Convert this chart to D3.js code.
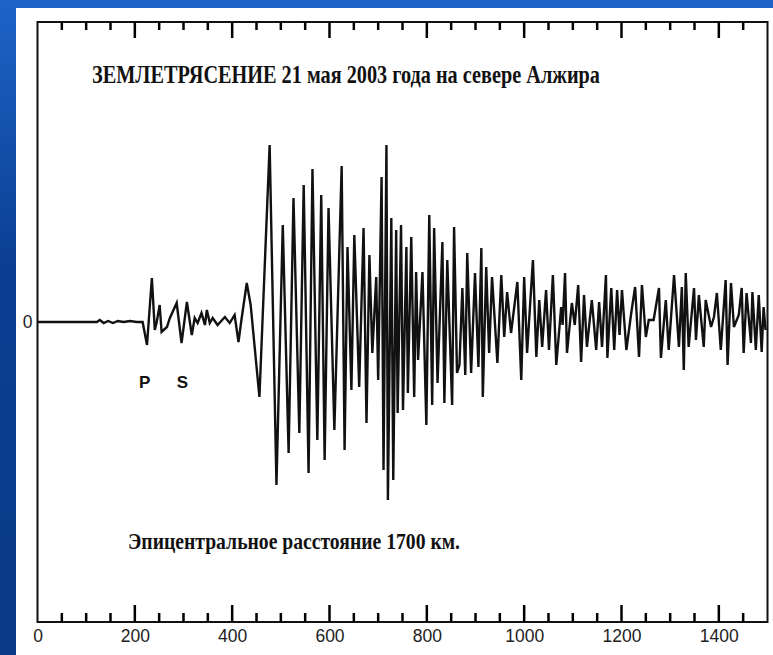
<!DOCTYPE html>
<html>
<head>
<meta charset="utf-8">
<script src="https://cdn.jsdelivr.net/npm/d3@7/dist/d3.min.js"></script>
<style>
    body { margin: 0; padding: 0; overflow: hidden; }
    svg { display: block; }
    .tickLabel text { font-family: "Liberation Sans", Arial, sans-serif; font-size: 17.5px; fill: #222; }
</style>
</head>
<body>
<svg id="seismo" width="773" height="655"></svg>
<script>
// seismogram (time axis units, amplitude in arbitrary units)
var timeValues = [0, 122, 128, 136, 145, 155, 165, 177, 190, 204, 216, 225, 235, 241, 245, 251, 255, 266, 272, 286,
    296, 307, 317, 323, 329, 337, 344, 348, 354, 360, 370, 385, 395, 405, 413, 419, 430, 438, 456, 477,
    491, 504, 516, 526, 538, 547, 557, 565, 575, 583, 590, 598, 610, 625, 631, 637, 645, 651, 661, 670,
    676, 682, 688, 696, 700, 707, 711, 717, 720, 727, 731, 737, 740, 747, 751, 758, 761, 768, 774, 778,
    782, 791, 799, 805, 811, 815, 822, 832, 836, 842, 852, 856, 862, 867, 873, 879, 883, 891, 899, 906,
    912, 915, 922, 928, 934, 945, 953, 959, 965, 973, 986, 994, 1000, 1006, 1018, 1025, 1031, 1037, 1045, 1051,
    1059, 1066, 1076, 1079, 1084, 1088, 1098, 1104, 1111, 1117, 1123, 1129, 1139, 1148, 1154, 1160, 1168, 1171, 1179, 1185,
    1191, 1196, 1201, 1210, 1220, 1228, 1236, 1242, 1250, 1256, 1266, 1277, 1281, 1291, 1297, 1308, 1318, 1324, 1328, 1332,
    1338, 1349, 1353, 1359, 1369, 1373, 1384, 1390, 1396, 1404, 1414, 1418, 1425, 1431, 1441, 1447, 1451, 1457, 1466, 1469,
    1476, 1482, 1488, 1492, 1496];
var amplitudeValues = [0, 0, 2, -1, 1, -1, 1, 0, 1, 0, 0, -23, 44, -8, 0, 17, -10, -5, 4, 19,
    -21, 20, -13, 4, -1, 9, -3, 12, -1, 4, -3, 5, -1, 7, -20, 2, 39, 17, -75, 177,
    -163, 97, -131, 124, -111, 137, -151, 153, -118, 127, -138, 114, -108, 156, -128, 75, -68, 87, -65, 94,
    -101, 67, -31, 45, -58, 145, -148, 177, -178, 104, -158, 92, -91, 97, -88, 75, -71, 85, -75, 50,
    -38, 50, -103, 107, -83, 94, -61, 80, -81, 62, -83, 95, -51, -43, 34, -53, 69, -51, 49, -45,
    74, -75, 55, -31, 45, -41, 47, -15, 30, -11, 40, -58, 45, -31, 62, -35, 22, -25, 32, -28,
    47, -43, 15, -3, 49, -31, 19, -3, 37, -40, 27, -25, 22, -28, 20, -25, 47, -36, 34, -28,
    32, -13, 32, -28, 9, 35, -35, 37, -15, 2, 2, 34, -36, 22, -28, 47, -25, 35, -48, 49,
    -25, 34, -18, 27, -25, 22, -5, 5, 29, -28, 42, -43, 39, -5, 7, 34, -31, 29, -21, 30,
    -28, 27, -30, 15, -8];

var majorTicks = [200, 400, 600, 800, 1000, 1200, 1400];
var minorTicks = [50, 100, 150, 250, 300, 350, 450, 500, 550, 650, 700, 750, 850, 900, 950,
    1050, 1100, 1150, 1250, 1300, 1350, 1450];
var xTickLabels = [0, 200, 400, 600, 800, 1000, 1200, 1400];

var titleText = "ЗЕМЛЕТРЯСЕНИЕ  21 мая 2003 года на севере Алжира";
var distanceText = "Эпицентральное расстояние 1700 км.";
var phaseLabels = [{name: "P", t: 220}, {name: "S", t: 298}];

var svg = d3.select("#seismo");

// slide background
var defs = svg.append("defs");
var grad = defs.append("linearGradient").attr("id", "slideBlue")
    .attr("x1", 0).attr("y1", 0).attr("x2", 0).attr("y2", 1);
grad.append("stop").attr("offset", "0%").attr("stop-color", "#1c64c8");
grad.append("stop").attr("offset", "40%").attr("stop-color", "#0c3f93");
grad.append("stop").attr("offset", "100%").attr("stop-color", "#0a3a86");
svg.append("rect").attr("width", 773).attr("height", 655).attr("fill", "url(#slideBlue)");
svg.append("rect").attr("x", 16).attr("y", 8).attr("width", 757).attr("height", 647).attr("fill", "#fff");

var xScale = d3.scaleLinear().domain([0, 1500]).range([37.5, 767.5]);
var yScale = d3.scaleLinear().domain([-300, 300]).range([622, 22]);

var plotTop = yScale(300), plotBottom = yScale(-300);

// frame
svg.append("rect")
    .attr("x", xScale(0)).attr("y", plotTop)
    .attr("width", xScale(1500) - xScale(0)).attr("height", plotBottom - plotTop)
    .attr("fill", "none").attr("stroke", "#111").attr("stroke-width", 2);

// tick marks on top (pointing down) and bottom (pointing up)
var tickData = majorTicks.map(function (v) { return {v: v, len: 16}; })
    .concat(minorTicks.map(function (v) { return {v: v, len: 8}; }));

svg.selectAll("line.topTick")
    .data(tickData)
    .enter()
    .append("line")
    .attr("class", "topTick")
    .attr("x1", function (d) { return xScale(d.v); })
    .attr("x2", function (d) { return xScale(d.v); })
    .attr("y1", plotTop)
    .attr("y2", function (d) { return plotTop + d.len; })
    .style("stroke", "#000")
    .style("stroke-width", "2.5px");
svg.selectAll("line.bottomTick")
    .data(tickData)
    .enter()
    .append("line")
    .attr("class", "bottomTick")
    .attr("x1", function (d) { return xScale(d.v); })
    .attr("x2", function (d) { return xScale(d.v); })
    .attr("y1", plotBottom)
    .attr("y2", function (d) { return plotBottom - d.len - 1; })
    .style("stroke", "#000")
    .style("stroke-width", "2.5px");

// bottom labels
svg.append("g")
    .attr("class", "tickLabel")
    .attr("transform", "translate(0," + plotBottom + ")")
    .call(d3.axisBottom(xScale).tickValues(xTickLabels).tickSize(0).tickPadding(8).tickFormat(d3.format("d")));

// zero label on the left
svg.append("g")
    .attr("class", "tickLabel")
    .attr("transform", "translate(" + xScale(0) + ",0)")
    .call(d3.axisLeft(yScale).tickValues([0]).tickSize(0).tickPadding(5));

svg.selectAll(".tickLabel .domain").remove();

// trace
var points = timeValues.map(function (t, i) { return [t, amplitudeValues[i]]; });
var traceLine = d3.line()
    .x(function (d) { return xScale(d[0]); })
    .y(function (d) { return yScale(d[1]); });
svg.append("path")
    .datum(points)
    .attr("d", traceLine)
    .attr("fill", "none")
    .attr("stroke", "#111")
    .attr("stroke-width", 2.4)
    .attr("stroke-linejoin", "miter");

// texts
svg.append("text")
    .attr("x", 92).attr("y", 83)
    .attr("textLength", 508).attr("lengthAdjust", "spacingAndGlyphs")
    .style("font-family", "'Liberation Serif', 'Times New Roman', serif")
    .style("font-weight", "bold").style("font-size", "25px").style("fill", "#111")
    .text(titleText);

svg.append("text")
    .attr("x", 128).attr("y", 549)
    .attr("textLength", 332).attr("lengthAdjust", "spacingAndGlyphs")
    .style("font-family", "'Liberation Serif', 'Times New Roman', serif")
    .style("font-weight", "bold").style("font-size", "24px").style("fill", "#111")
    .text(distanceText);

svg.selectAll(".phase")
    .data(phaseLabels)
    .enter()
    .append("text")
    .attr("class", "phase")
    .attr("x", function (d) { return xScale(d.t); })
    .attr("y", 388)
    .attr("text-anchor", "middle")
    .style("font-family", "'Liberation Sans', Arial, sans-serif")
    .style("font-weight", "bold").style("font-size", "17px").style("fill", "#111")
    .text(function (d) { return d.name; });
</script>
</body>
</html>
